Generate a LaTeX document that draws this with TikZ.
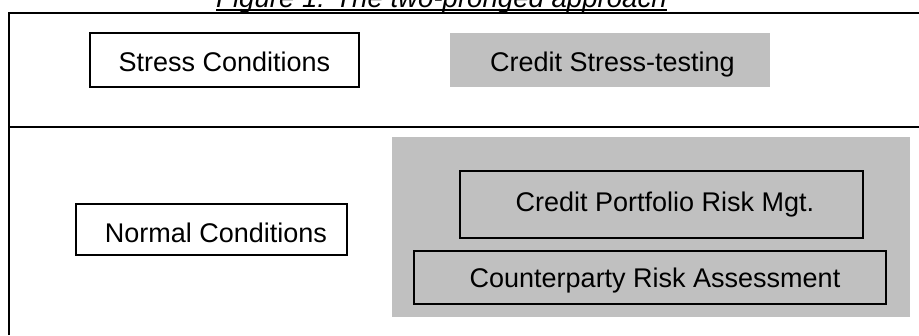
\documentclass[tikz,border=0pt]{standalone}
\usepackage{fontspec}
\setmainfont{Liberation Sans}
\definecolor{panelgray}{HTML}{C0C0C0}
\begin{document}
\begin{tikzpicture}[x=1pt,y=-1pt,
  every node/.style={font=\fontsize{27}{32}\selectfont, text=black,
    text height=19.4pt, text depth=0pt, inner sep=0pt},
  outlinebox/.style={draw=black, line width=2.2pt},
  shadedbox/.style={fill=panelgray},
  framerule/.style={line width=2.2pt, draw=black}]
  \useasboundingbox (0,0) rectangle (919,335);

  % caption above the frame
  \node[anchor=base, font=\fontsize{27.6}{32}\selectfont\itshape] (title) at (441.5,7)
    {Figure 1: The two-pronged approach};
  \draw[line width=1.4pt] ([yshift=-3pt]title.base west) -- ([yshift=-3pt]title.base east);

  % outer frame, split into two bands
  \draw[framerule] (9,335) -- (9,13) -- (919,13);
  \draw[framerule] (9,127) -- (919,127);

  % stress band
  \node[outlinebox, minimum width=269pt, minimum height=54pt] (stress) at (224.5,60) {};
  \node (stresstxt) at (224.5,62) {Stress Conditions};
  \node[shadedbox, minimum width=320pt, minimum height=54pt] (cst) at (610,60) {};
  \node (csttxt) at (612.5,62) {Credit Stress-testing};

  % normal band
  \node[outlinebox, minimum width=271pt, minimum height=51pt] (normal) at (211.5,229.5) {};
  \node (normaltxt) at (216,233) {Normal Conditions};
  \node[shadedbox, minimum width=518pt, minimum height=180pt] (panel) at (651,227) {};
  \node[outlinebox, minimum width=403pt, minimum height=67pt] (portfolio) at (661.5,204.5) {};
  \node (portfoliotxt) at (665,202) {Credit Portfolio Risk Mgt.};
  \node[outlinebox, minimum width=472pt, minimum height=53pt] (cpty) at (650,277.5) {};
  \node (cptytxt) at (655,278) {Counterparty Risk Assessment};
\end{tikzpicture}
\end{document}
